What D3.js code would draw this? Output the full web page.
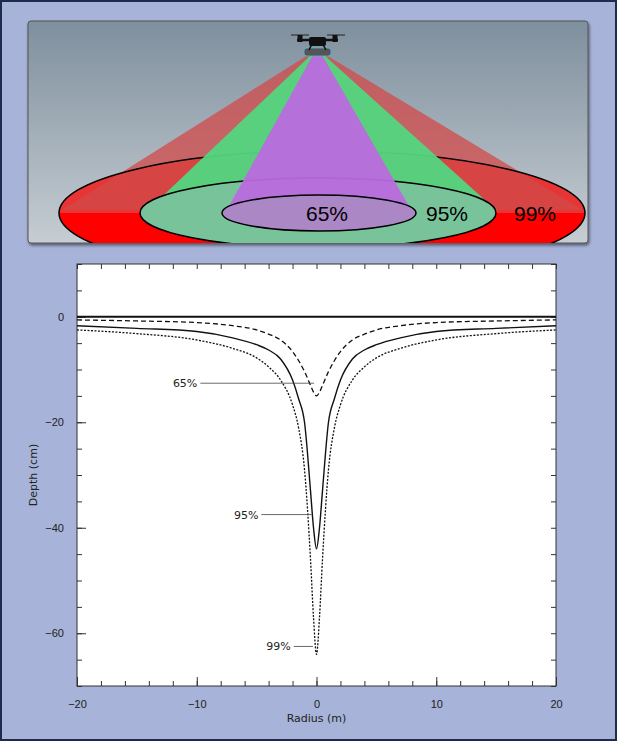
<!DOCTYPE html>
<html><head><meta charset="utf-8">
<script src="https://cdn.jsdelivr.net/npm/d3@7"></script>
<style>body{margin:0;background:#a7b3d8;}svg{display:block;}</style>
</head><body>
<svg id="c" width="617" height="741"></svg>
<script>
// radius samples (m) and depths (cm), left half; mirrored
const radius = [-20, -15, -10, -7, -5, -4, -3, -2, -1.5, -1, -0.5, -0.25, 0];
const depth65 = [-0.6, -0.8, -1.1, -1.7, -2.5, -3.3, -4.4, -6.6, -8.3, -10.4, -13, -14.3, -15];
const depth95 = [-1.7, -2.2, -2.8, -4, -5.3, -6.3, -8, -12, -15.5, -20, -33, -40, -44];
const depth99 = [-2.5, -3.2, -4.4, -6, -7.8, -9.5, -12, -16.7, -21, -29, -46, -57, -64];
const xTicks = [-20, -10, 0, 10, 20];
const yTicks = [0, -20, -40, -60];
const labels = [{t: "65%", y: -12.6, x0: -9.7, x1: -0.2}, {t: "95%", y: -37.5, x0: -4.6, x1: -0.4}, {t: "99%", y: -62.5, x0: -1.9, x1: -0.3}];

const svg = d3.select("#c");
svg.append("rect").attr("x", 1).attr("y", 1).attr("width", 615).attr("height", 739)
  .attr("fill", "#a7b3d8").attr("stroke", "#1d2b4d").attr("stroke-width", 2);

// ---- top illustration
const defs = svg.append("defs");
const g = defs.append("linearGradient").attr("id", "sky").attr("x1", 0).attr("y1", 0).attr("x2", 0).attr("y2", 1);
g.append("stop").attr("offset", 0).attr("stop-color", "#7e8f9d");
g.append("stop").attr("offset", 1).attr("stop-color", "#c6cdd3");
defs.append("clipPath").attr("id", "pc").append("rect").attr("x", 28).attr("y", 21).attr("width", 560).attr("height", 222).attr("rx", 3);
const f = defs.append("filter").attr("id", "sh");
f.append("feDropShadow").attr("dx", 1).attr("dy", 2).attr("stdDeviation", 1.5).attr("flood-opacity", 0.5);

svg.append("rect").attr("x", 28).attr("y", 21).attr("width", 560).attr("height", 222).attr("rx", 3)
  .attr("fill", "url(#sky)").attr("stroke", "#555").attr("filter", "url(#sh)");
const panel = svg.append("g").attr("clip-path", "url(#pc)");
const cy = 213;
panel.append("ellipse").attr("cx", 322).attr("cy", cy).attr("rx", 263).attr("ry", 62).attr("fill", "#ff0000");
panel.append("path").attr("d", `M59,${cy} A263,62 0 0 1 585,${cy} Z`).attr("fill", "#e83434");
const cone = (pts, col, op) => panel.append("polygon").attr("points", pts.map(p => p.join(",")).join(" ")).attr("fill", col).attr("fill-opacity", op);
cone([[308, 55], [326, 55], [583, 210], [62, 210]], "#d24a4a", 0.75);
panel.append("ellipse").attr("cx", 322).attr("cy", cy).attr("rx", 263).attr("ry", 62).attr("fill", "none").attr("stroke", "#000").attr("stroke-width", 1.5);
cone([[311, 55], [324, 55], [496, 210], [148, 210]], "#52d680", 0.95);
panel.append("ellipse").attr("cx", 318).attr("cy", cy).attr("rx", 178).attr("ry", 35).attr("fill", "#79c39b").attr("stroke", "#000").attr("stroke-width", 1.5);
cone([[313, 55], [322, 55], [410, 208], [228, 208]], "#bb6ade", 0.95);
panel.append("ellipse").attr("cx", 319).attr("cy", cy).attr("rx", 97).attr("ry", 18).attr("fill", "#ab87c6").attr("stroke", "#000").attr("stroke-width", 1.5);
[["65%", 327], ["95%", 447], ["99%", 535]].forEach(([t, x]) =>
  panel.append("text").attr("x", x).attr("y", 221).attr("text-anchor", "middle").attr("font-family", "Liberation Sans, Arial")
    .attr("font-size", 21).text(t));
// drone
const d = svg.append("g");
d.append("rect").attr("x", 304).attr("y", 48).attr("width", 27).attr("height", 8).attr("rx", 3).attr("fill", "#555").attr("stroke", "#5ab0e0").attr("stroke-width", 0.8);
d.append("path").attr("d", "M309,50 Q317,32 326,50").attr("fill", "none").attr("stroke", "#111").attr("stroke-width", 1.5);
d.append("rect").attr("x", 309).attr("y", 37).attr("width", 17).attr("height", 9).attr("rx", 2).attr("fill", "#111");
d.append("path").attr("d", "M297,40 L338,40").attr("stroke", "#111").attr("stroke-width", 2.5);
[[291, 35, 309], [327, 35, 345]].forEach(([a, y, b]) => d.append("path").attr("d", `M${a},${y} L${b},${y}`).attr("stroke", "#222").attr("stroke-width", 1));
[300, 335].forEach(x => d.append("rect").attr("x", x - 2.5).attr("y", 35).attr("width", 5).attr("height", 7).attr("fill", "#111"));

// ---- chart
const m = {l: 77, r: 556, t: 264, b: 686};
const x = d3.scaleLinear().domain([-20, 20]).range([m.l, m.r]);
const y = d3.scaleLinear().domain([-70, 10]).range([m.b, m.t]);
svg.append("rect").attr("x", m.l).attr("y", m.t).attr("width", m.r - m.l).attr("height", m.b - m.t).attr("fill", "#fff");
const ch = svg.append("g").attr("font-family", "DejaVu Sans, sans-serif").attr("font-size", 11).attr("fill", "#222");
const tk = (axis, tr) => ch.append("g").attr("transform", tr).call(axis).call(s => s.select(".domain").remove()).call(s => s.selectAll("line").attr("stroke", "#333"));
tk(d3.axisBottom(x).tickValues(d3.range(-20, 21, 2)).tickSize(-5).tickFormat(""), `translate(0,${m.b})`);
tk(d3.axisTop(x).tickValues(d3.range(-20, 21, 2)).tickSize(-5).tickFormat(""), `translate(0,${m.t})`);
tk(d3.axisLeft(y).tickValues(d3.range(-70, 11, 5)).tickSize(-5).tickFormat(""), `translate(${m.l},0)`);
tk(d3.axisRight(y).tickValues(d3.range(-70, 11, 5)).tickSize(-5).tickFormat(""), `translate(${m.r},0)`);
tk(d3.axisBottom(x).tickValues(xTicks).tickSize(-9).tickPadding(14).tickFormat(v => v < 0 ? "\u2212" + (-v) : v), `translate(0,${m.b})`);
tk(d3.axisLeft(y).tickValues(yTicks).tickSize(-9).tickPadding(13).tickFormat(v => v < 0 ? "\u2212" + (-v) : v), `translate(${m.l},0)`);
ch.selectAll(".tick text").attr("font-size", 11).attr("fill", "#222");
ch.append("rect").attr("x", m.l).attr("y", m.t).attr("width", m.r - m.l).attr("height", m.b - m.t).attr("fill", "none").attr("stroke", "#333");

const full = arr => radius.map((r, i) => [r, arr[i]]).concat(radius.slice(0, -1).reverse().map(r => [-r, arr[radius.indexOf(r)]]));
const line = d3.line().x(p => x(p[0])).y(p => y(p[1])).curve(d3.curveMonotoneX);
const plot = ch.append("g").attr("fill", "none").attr("stroke", "#111");
plot.append("path").attr("d", line([[-20, 0], [20, 0]])).attr("stroke-width", 1.8);
plot.append("path").attr("d", line(full(depth65))).attr("stroke-width", 1.3).attr("stroke-dasharray", "5,3");
plot.append("path").attr("d", line(full(depth95))).attr("stroke-width", 1.4);
plot.append("path").attr("d", line(full(depth99))).attr("stroke-width", 1.3).attr("stroke-dasharray", "2,1.5");
labels.forEach(l => {
  ch.append("line").attr("x1", x(l.x0)).attr("x2", x(l.x1)).attr("y1", y(l.y)).attr("y2", y(l.y)).attr("stroke", "#444").attr("stroke-width", 0.8);
  ch.append("text").attr("x", x(l.x0) - 3).attr("y", y(l.y) + 4).attr("text-anchor", "end").text(l.t);
});
ch.append("text").attr("x", (m.l + m.r) / 2).attr("y", 722).attr("text-anchor", "middle").text("Radius (m)");
ch.append("text").attr("transform", `translate(37,${(m.t + m.b) / 2}) rotate(-90)`).attr("text-anchor", "middle").text("Depth (cm)");
</script>
</body></html>
